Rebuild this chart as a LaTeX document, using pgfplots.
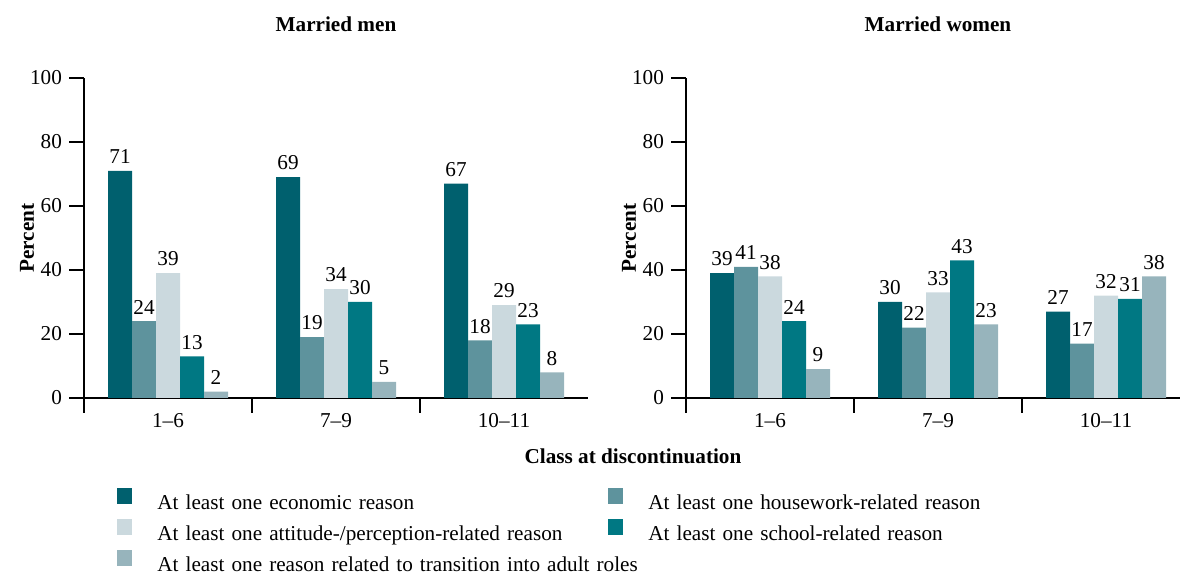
\documentclass[border=0pt]{standalone}
\usepackage{fontspec}
\setmainfont{Liberation Serif}
\usepackage{pgfplots}
\pgfplotsset{compat=1.18}
\definecolor{cEco}{HTML}{00606E}
\definecolor{cHouse}{HTML}{5E939D}
\definecolor{cAtt}{HTML}{CBD9DE}
\definecolor{cSchool}{HTML}{007883}
\definecolor{cTrans}{HTML}{97B4BC}
\newcommand{\fs}{\fontsize{10.6}{12.5}\selectfont}
\pgfplotsset{
  /pgf/number format/assume math mode=true,
  sq/.style={fill=#1, draw=none,
    legend image code/.code={\fill[#1] (0pt,0pt) rectangle (7.5pt,8pt);}},
  myaxis/.style={
    scale only axis, width=252pt, height=160pt,
    ymin=0, ymax=100, ytick={0,20,...,100},
    xmin=-0.5, xmax=2.5,
    axis x line*=bottom, axis y line*=left,
    axis line style={-, line width=0.7pt},
    ybar=0pt, bar width=12pt,
    xtick={0,1,2}, xticklabels={1–6,7–9,10–11},
    tick align=outside, major tick length=7.5pt,
    tick style={line width=0.7pt, black},
    x tick style={draw=none},
    extra x ticks={-0.5,0.5,1.5}, extra x tick labels={},
    extra x tick style={x tick style={draw=black}},
    tick label style={font=\fs},
    xticklabel style={yshift=3.5pt},
    nodes near coords,
    nodes near coords style={font=\fs, text=black},
    ylabel={Percent},
    ylabel style={font=\fs\bfseries, at={(axis description cs:-0.113,0.5)}, anchor=center},
    title style={font=\fs\bfseries, at={(axis description cs:0.5,1)}, anchor=center, yshift=21pt},
  }
}
\begin{document}
\begin{tikzpicture}
\useasboundingbox (0,0) rectangle (590pt,286.5pt);
\begin{axis}[myaxis, at={(42pt,87.5pt)}, anchor=south west, title={Married men},
  legend columns=2,
  legend style={at={(axis description cs:0.0655,-0.28125)}, anchor=north west, draw=none, fill=none,
    inner sep=0pt, column sep=0pt, row sep=0pt,
    font=\fs,
    nodes={inner xsep=12.5pt, inner ysep=2.75pt, text height=7.5pt, text depth=2pt, text width=213pt}},
]
\addplot[sq=cEco] coordinates {(0,71) (1,69) (2,67)};
\addplot[sq=cHouse] coordinates {(0,24) (1,19) (2,18)};
\addplot[sq=cAtt] coordinates {(0,39) (1,34) (2,29)};
\addplot[sq=cSchool] coordinates {(0,13) (1,30) (2,23)};
\addplot[sq=cTrans] coordinates {(0,2) (1,5) (2,8)};
\legend{At least one economic reason, At least one housework-related reason,
  At least one attitude-/perception-related reason, At least one school-related reason,
  \mbox{At least one reason related to transition into adult roles}}
\end{axis}
\begin{axis}[myaxis, at={(343pt,87.5pt)}, anchor=south west, title={Married women}]
\addplot[sq=cEco] coordinates {(0,39) (1,30) (2,27)};
\addplot[sq=cHouse] coordinates {(0,41) (1,22) (2,17)};
\addplot[sq=cAtt] coordinates {(0,38) (1,33) (2,32)};
\addplot[sq=cSchool] coordinates {(0,24) (1,43) (2,31)};
\addplot[sq=cTrans] coordinates {(0,9) (1,23) (2,38)};
\end{axis}
\node[font=\fs\bfseries] at (316.5pt,58.5pt) {Class at discontinuation};
\end{tikzpicture}
\end{document}
